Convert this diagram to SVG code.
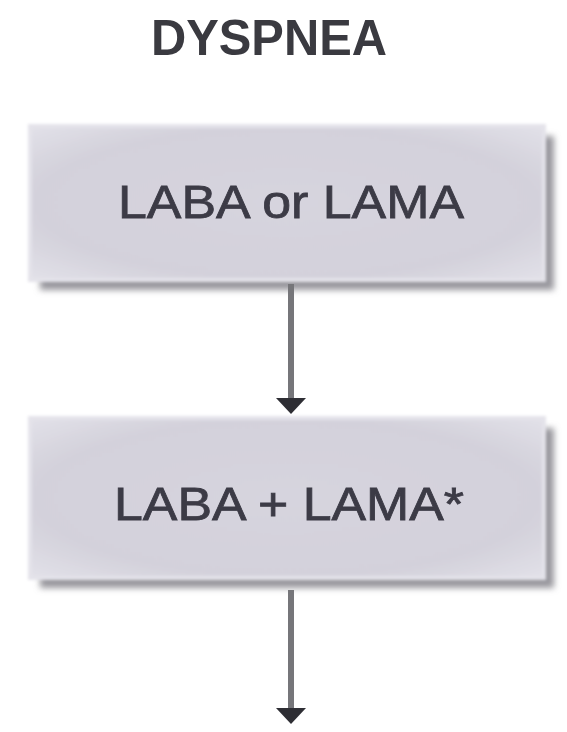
<svg xmlns="http://www.w3.org/2000/svg" width="567" height="732" viewBox="0 0 567 732">
  <style>
    .title { font-family: "Liberation Sans", Arial, sans-serif; font-weight: bold; font-size: 50px; fill: #3a3a40; }
    .lbl { font-family: "Liberation Sans", Arial, sans-serif; font-weight: normal; font-size: 47px; fill: #3c3b46; stroke: #3c3b46; stroke-width: 0.8; }
    .shadow { fill: #98979d; filter: url(#blur); }
    .box { fill: url(#boxfill); stroke: #e4e3ea; stroke-width: 4; filter: url(#soft); }
    .conn { stroke: #76767a; stroke-width: 6; fill: none; }
    .head { fill: #2e2e34; }
  </style>
  <defs>
    <filter id="blur" x="-10%" y="-20%" width="120%" height="140%">
      <feGaussianBlur stdDeviation="3"/>
    </filter>
    <filter id="soft" x="-5%" y="-10%" width="110%" height="120%">
      <feGaussianBlur stdDeviation="1.5"/>
    </filter>
    <radialGradient id="boxfill" cx="50%" cy="50%" r="70%">
      <stop offset="0" stop-color="#d6d4de"/>
      <stop offset="0.7" stop-color="#d3d1db"/>
      <stop offset="1" stop-color="#e2e1e8"/>
    </radialGradient>
  </defs>
  <rect width="567" height="732" fill="#ffffff"/>

  <g id="title">
    <text class="title" x="269" y="55" text-anchor="middle" textLength="236" lengthAdjust="spacingAndGlyphs">DYSPNEA</text>
  </g>

  <g id="node1">
    <rect class="shadow" x="40" y="136" width="514" height="154"/>
    <rect class="box" x="30" y="126" width="514" height="154"/>
    <text class="lbl" x="291" y="218" text-anchor="middle" textLength="346" lengthAdjust="spacingAndGlyphs">LABA or LAMA</text>
  </g>

  <g id="node2">
    <rect class="shadow" x="40" y="428" width="514" height="160"/>
    <rect class="box" x="30" y="418" width="514" height="160"/>
    <text class="lbl" x="289" y="520" text-anchor="middle" textLength="350" lengthAdjust="spacingAndGlyphs">LABA + LAMA*</text>
  </g>

  <g id="connectors">
    <line class="conn" x1="291" y1="284" x2="291" y2="400"/>
    <polygon class="head" points="276,398 306,398 291,414"/>
    <line class="conn" x1="291" y1="590" x2="291" y2="710"/>
    <polygon class="head" points="276,708 306,708 291,724"/>
  </g>
</svg>
